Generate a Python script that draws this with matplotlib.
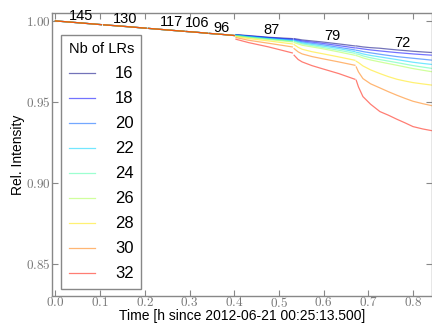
import matplotlib
matplotlib.use('Agg')
import matplotlib.pyplot as plt
from matplotlib.ticker import FuncFormatter

plt.rcParams['mathtext.fontset'] = 'cm'
plt.rcParams['font.family'] = ['Liberation Sans', 'DejaVu Sans']

n_lrs = [16, 18, 20, 22, 24, 26, 28, 30, 32]

# first fills: every LR count gives the same curve
early_t = [[0.000, 0.050, 0.103],
           [0.108, 0.155, 0.203],
           [0.208, 0.260, 0.288],
           [0.292, 0.316, 0.340],
           [0.344, 0.372, 0.400]]
early_y = [[1.0000, 0.9989, 0.9977],
           [0.9976, 0.9966, 0.9955],
           [0.9954, 0.9942, 0.9936],
           [0.9935, 0.9930, 0.9924],
           [0.9923, 0.9917, 0.9910]]

# later fills, one row per LR count
seg_f_t = [0.404, 0.432, 0.477, 0.530]
seg_f = [[0.99156, 0.99095, 0.98992, 0.98909],
         [0.99136, 0.99074, 0.98971, 0.98868],
         [0.99136, 0.99054, 0.98950, 0.98827],
         [0.99115, 0.99033, 0.98909, 0.98786],
         [0.99115, 0.99012, 0.98889, 0.98745],
         [0.99074, 0.98971, 0.98848, 0.98704],
         [0.99033, 0.98909, 0.98765, 0.98580],
         [0.98971, 0.98807, 0.98621, 0.98395],
         [0.98868, 0.98663, 0.98395, 0.98025]]

seg_g_t = [0.534, 0.543, 0.552, 0.574, 0.596, 0.634, 0.670]
seg_g = [[0.98909, 0.98868, 0.98827, 0.98765, 0.98704, 0.98580, 0.98457],
         [0.98868, 0.98816, 0.98765, 0.98693, 0.98621, 0.98477, 0.98333],
         [0.98827, 0.98765, 0.98704, 0.98621, 0.98539, 0.98374, 0.98210],
         [0.98786, 0.98714, 0.98642, 0.98550, 0.98457, 0.98292, 0.98107],
         [0.98745, 0.98663, 0.98580, 0.98477, 0.98374, 0.98189, 0.98004],
         [0.98663, 0.98580, 0.98498, 0.98395, 0.98292, 0.98086, 0.97881],
         [0.98539, 0.98370, 0.98251, 0.98100, 0.97984, 0.97778, 0.97572],
         [0.98292, 0.98090, 0.97963, 0.97800, 0.97675, 0.97469, 0.97263],
         [0.97881, 0.97620, 0.97469, 0.97240, 0.97058, 0.96749, 0.96399]]

seg_h_t = [0.673, 0.678, 0.688, 0.705, 0.726, 0.745, 0.764, 0.782, 0.800, 0.822, 0.845]
seg_h = [[0.98457, 0.98436, 0.98395, 0.98350, 0.98313, 0.98260, 0.98210, 0.98170, 0.98128, 0.98085, 0.98045],
         [0.98333, 0.98313, 0.98272, 0.98210, 0.98148, 0.98095, 0.98045, 0.98005, 0.97963, 0.97920, 0.97881],
         [0.98189, 0.98169, 0.98107, 0.98030, 0.97942, 0.97870, 0.97798, 0.97745, 0.97695, 0.97635, 0.97572],
         [0.98066, 0.98045, 0.97963, 0.97870, 0.97778, 0.97695, 0.97613, 0.97530, 0.97449, 0.97375, 0.97305],
         [0.97963, 0.97942, 0.97840, 0.97725, 0.97613, 0.97520, 0.97428, 0.97335, 0.97243, 0.97150, 0.97058],
         [0.97860, 0.97819, 0.97716, 0.97590, 0.97469, 0.97365, 0.97263, 0.97160, 0.97058, 0.96955, 0.96852],
         [0.97510, 0.97428, 0.97222, 0.96980, 0.96749, 0.96560, 0.96399, 0.96290, 0.96193, 0.96110, 0.96029],
         [0.97160, 0.96852, 0.96440, 0.96120, 0.95864, 0.95630, 0.95412, 0.95220, 0.95041, 0.94890, 0.94753],
         [0.96337, 0.95926, 0.95329, 0.94860, 0.94403, 0.94180, 0.93930, 0.93710, 0.93477, 0.93330, 0.93210]]

# bunch numbers written over each fill
fill_labels = ['145', '130', '117', '106', '96', '87', '79', '72']
label_t = [0.057, 0.155, 0.260, 0.316, 0.371, 0.483, 0.620, 0.777]
label_y = [1.0032, 1.0014, 0.9996, 0.9986, 0.9958, 0.9943, 0.9909, 0.9862]

fig = plt.figure(figsize=(4.32, 3.23), dpi=100)
ax = fig.add_axes([0.1204, 0.0836, 0.8796, 0.8762])

colors = [plt.cm.jet(i / 9) for i in range(len(n_lrs))]

for i, n in enumerate(n_lrs):
    c = colors[i]
    for k in range(len(early_t)):
        ax.plot(early_t[k], early_y[k], color=c, alpha=0.55, lw=0.9,
                label=str(n) if k == 0 else None)
    ax.plot(seg_f_t, seg_f[i], color=c, alpha=0.55, lw=0.9)
    ax.plot(seg_g_t, seg_g[i], color=c, alpha=0.55, lw=0.9)
    ax.plot(seg_h_t, seg_h[i], color=c, alpha=0.55, lw=0.9)

for lab, t, y in zip(fill_labels, label_t, label_y):
    ax.text(t, y, lab, ha='center', va='center', fontsize=10.5)

ax.set_xlim(-0.0076, 0.8425)
ax.set_ylim(0.8302, 1.0049)
ax.set_xticks([0.0, 0.1, 0.2, 0.3, 0.4, 0.5, 0.6, 0.7, 0.8])
ax.set_yticks([0.85, 0.90, 0.95, 1.00])
ax.xaxis.set_major_formatter(FuncFormatter(lambda v, p: r'$%.1f$' % v))
ax.yaxis.set_major_formatter(FuncFormatter(lambda v, p: r'$%.2f$' % v))
ax.tick_params(direction='in', top=True, right=True, length=4, width=0.8,
               color='#888888', labelcolor='#777777', labelsize=9.5, pad=1)
ax.tick_params(axis='x', pad=0)
for s in ax.spines.values():
    s.set_color('#888888')
    s.set_linewidth(1.0)

ax.set_xlabel('Time [h since 2012-06-21 00:25:13.500]', fontsize=10, va='center')
ax.xaxis.set_label_coords(0.5, -0.069)
ax.set_ylabel('Rel. Intensity', fontsize=10, va='center')
ax.yaxis.set_label_coords(-0.09, 0.5)

leg = ax.legend(title='Nb of LRs', loc='upper left', bbox_to_anchor=(0.0237, 0.9223),
                borderaxespad=0, fontsize=12, title_fontsize=10.5, fancybox=False,
                handlelength=1.6, handletextpad=1.2, labelspacing=0.6,
                borderpad=0.45, framealpha=1, edgecolor='#888888')
leg.get_frame().set_linewidth(1.0)

fig.savefig('out.png', dpi=100)
